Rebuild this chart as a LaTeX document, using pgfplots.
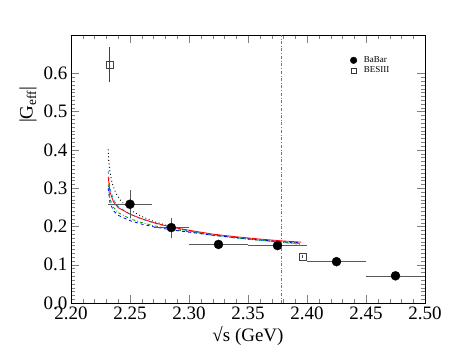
\documentclass[border=0pt]{standalone}
\usepackage{fontspec}
\setmainfont{Liberation Serif}
\usepackage{pgfplots}
\pgfplotsset{compat=1.18}
\definecolor{thrline}{RGB}{110,110,225}
\begin{document}
\begin{tikzpicture}
\useasboundingbox (-71pt,-55pt) rectangle (392pt,303pt);
\begin{axis}[
  at={(0pt,0pt)}, anchor=south west,
  scale only axis, width=354pt, height=268pt,
  xmin=2.2, xmax=2.5, ymin=0, ymax=0.7,
  xtick={2.20,2.25,2.30,2.35,2.40,2.45,2.50},
  ytick={0,0.1,0.2,0.3,0.4,0.5,0.6},
  minor x tick num=4, minor y tick num=9,
  tick align=inside, major tick length=8pt, minor tick length=4pt,
  xticklabel style={/pgf/number format/fixed, /pgf/number format/precision=2, /pgf/number format/fixed zerofill},
  yticklabel style={/pgf/number format/fixed, /pgf/number format/precision=1, /pgf/number format/fixed zerofill},
  /pgf/number format/assume math mode=true,
  ticklabel style={font=\fontsize{19}{22}\selectfont},
  label style={font=\fontsize{19}{22}\selectfont},
  xlabel={√s (GeV)},
  ylabel={|G\textsubscript{eff}|},
  ylabel style={at={(ticklabel cs:0.74)}},
  legend style={draw=none, fill=none, at={(0.78,0.935)}, anchor=north west,
    font=\fontsize{9}{10}\selectfont, row sep=-1pt, column sep=5pt},
  legend cell align=left,
]
% model curves
\addplot[black, line width=1.3pt, dash pattern=on 0.01pt off 3.5pt, line cap=round, forget plot] coordinates {
(2.2315,0.400)(2.2320,0.372)(2.2330,0.342)(2.2350,0.312)(2.2380,0.287)(2.2420,0.268)
(2.2500,0.243)(2.2600,0.226)(2.2700,0.213)(2.2850,0.199)(2.3000,0.189)(2.3200,0.178)
(2.3400,0.170)(2.3600,0.164)(2.3800,0.159)(2.3950,0.156)};
\addplot[cyan, thick, dashed, forget plot] coordinates {
(2.2315,0.345)(2.2330,0.300)(2.2360,0.270)(2.2400,0.252)(2.2500,0.232)(2.2600,0.219)
(2.2700,0.209)(2.2850,0.197)(2.3000,0.188)(2.3200,0.178)(2.3400,0.170)(2.3600,0.164)
(2.3800,0.158)(2.3950,0.155)};
\addplot[green!60!black, thick, dash dot, forget plot] coordinates {
(2.2315,0.310)(2.2330,0.272)(2.2360,0.250)(2.2400,0.236)(2.2500,0.220)(2.2600,0.210)
(2.2700,0.202)(2.2850,0.193)(2.3000,0.186)(2.3200,0.177)(2.3400,0.170)(2.3600,0.164)
(2.3800,0.158)(2.3950,0.153)};
\addplot[blue, thick, dashed, forget plot] coordinates {
(2.2315,0.300)(2.2330,0.262)(2.2360,0.241)(2.2400,0.229)(2.2500,0.215)(2.2600,0.206)
(2.2700,0.199)(2.2850,0.191)(2.3000,0.185)(2.3200,0.177)(2.3400,0.171)(2.3600,0.165)
(2.3800,0.160)(2.3950,0.157)};
\addplot[red, thick, forget plot] coordinates {
(2.2315,0.330)(2.2330,0.290)(2.2360,0.264)(2.2400,0.249)(2.2500,0.232)(2.2600,0.220)
(2.2700,0.210)(2.2850,0.198)(2.3000,0.190)(2.3200,0.180)(2.3400,0.173)(2.3600,0.167)
(2.3800,0.162)(2.3950,0.159)};
% threshold line
\addplot[thrline, dash dot, forget plot] coordinates {(2.378,0) (2.378,0.7)};
% data
\addplot[only marks, mark=*, mark size=4.5pt, black, forget plot,
  error bars/.cd, x dir=both, x explicit, y dir=both, y explicit,
  error mark=none, error bar style={black!65, thin}] coordinates {
(2.250,0.258) +- (0.0190,0.037)
(2.285,0.197) +- (0.0150,0.026)
(2.325,0.153) +- (0.0250,0.000)
(2.375,0.150) +- (0.0250,0.000)
(2.425,0.108) +- (0.0250,0.000)
(2.475,0.071) +- (0.0250,0.000)};
\addplot[only marks, mark=square, mark size=3.5pt, black!75, forget plot,
  error bars/.cd, y dir=both, y explicit,
  error mark=none, error bar style={black!75, thin}] coordinates {
(2.2324,0.622) +- (0,0.046)
(2.3960,0.121) +- (0,0.004)};
\addlegendimage{only marks, mark=*, mark size=3.3pt, black}
\addlegendentry{BaBar}
\addlegendimage{only marks, mark=square, mark size=2.6pt, black!80}
\addlegendentry{BESIII}
\end{axis}
\end{tikzpicture}
\end{document}
